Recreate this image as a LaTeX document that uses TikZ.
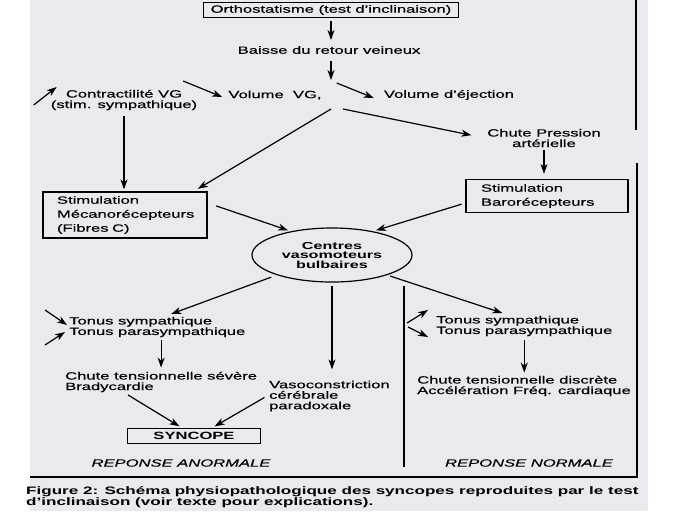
\documentclass[tikz,border=0pt]{standalone}
\usepackage{fontspec}
\setmainfont{Liberation Sans}[FakeStretch=1.58,
  UprightFeatures={FakeBold=0.4},ItalicFeatures={FakeBold=0.4}]
\usetikzlibrary{arrows.meta,positioning,shapes.geometric}
\definecolor{paper}{RGB}{233,233,238}
\tikzset{>={Stealth[length=10pt,width=7pt,inset=3pt]}}
\tikzset{
  lbl/.style={inner sep=2pt,font=\fontsize{10.5}{10.5}\selectfont},
  box/.style={draw,line width=1.2pt,inner sep=2pt,font=\fontsize{10.5}{14}\selectfont},
  ell/.style={draw,ellipse,line width=1.2pt,minimum width=160,minimum height=54,
    inner sep=0pt,align=center,font=\bfseries\fontsize{10.2}{9.5}\selectfont},
  arr/.style={->,line width=1.2pt},
  frame/.style={line width=1.4pt}
}

\begin{document}
\begin{tikzpicture}[x=1pt,y=-1pt]
  \useasboundingbox (0,0) rectangle (689,517);
  \fill[paper] (30,0) rectangle (648,511);
  % haut du schema
  \node[box,minimum width=255,minimum height=15,inner sep=0pt] (o) at (331,10) {Orthostatisme (test d'inclinaison)};
  \node[lbl] (b) at (329,50) {Baisse du retour veineux};
  \coordinate (k) at (331,80);
  \node[lbl,align=center] (c) at (124,100) {Contractilité VG\\(stim. sympathique)};
  \node[lbl] (v) at (275,95) {Volume\ \ VG,};
  \node[lbl] (e) at (449,95) {Volume d'éjection};
  \coordinate (d) at (337,109);
  \node[lbl,align=center] (p) at (544,138) {Chute Pression\\artérielle};
  \node[box,align=left,text width=136,inner xsep=14,minimum height=46] (m) at (125,215)
    {Stimulation\\Mécanorécepteurs\\(Fibres C)};
  \node[box,align=left,text width=132,inner xsep=15,minimum height=33] (r) at (547,196)
    {Stimulation\\Barorécepteurs};
  \node[ell] (z) at (332,255) {Centres\\vasomoteurs\\bulbaires};
  % bas du schema
  \node[lbl,align=left,anchor=west] (ts) at (67,327) {Tonus sympathique\\Tonus parasympathique};
  \node[lbl,align=left,anchor=west] (ct) at (63,382) {Chute tensionnelle sévère\\Bradycardie};
  \node[lbl,align=left,anchor=west] (vc) at (267,396) {Vasoconstriction\\cérébrale\\paradoxale};
  \node[box,minimum width=133,minimum height=15,inner sep=0pt,font=\bfseries\fontsize{10.5}{10.5}\selectfont] (s) at (194,436) {SYNCOPE};
  \node[lbl,align=left,anchor=west] (tr) at (434,326) {Tonus sympathique\\Tonus parasympathique};
  \node[lbl,align=left,anchor=west] (cr) at (415,386) {Chute tensionnelle discrète\\Accélération Fréq. cardiaque};
  \node[lbl,font=\itshape\fontsize{10.5}{10.5}\selectfont] (an) at (181,463) {REPONSE ANORMALE};
  \node[lbl,font=\itshape\fontsize{10.5}{10.5}\selectfont] (no) at (529,463) {REPONSE NORMALE};
  \node[lbl,align=left,anchor=west,inner sep=0pt,font=\bfseries\fontsize{10.8}{10}\selectfont] (f) at (26,497)
    {Figure 2: Schéma physiopathologique des syncopes reproduites par le test\\d'inclinaison (voir texte pour explications).};
  % fleches
  \path[arr] (o.south) edge[shorten <=3pt,shorten >=4pt] (o.south |- b.north)
    (b.south -| k) edge[shorten <=5pt] (k)
    ([xshift=-6]d) edge[shorten >=5pt] ([xshift=-14]m.north east)
    ([xshift=6]d) edge[shorten >=14pt] (p.west)
    (c.south) edge[shorten <=4pt,shorten >=2pt] (c.south |- m.north)
    (p.south) edge[shorten <=1pt,shorten >=5pt] (p.south |- r.north)
    ([yshift=12]m.east) edge[shorten <=9pt,shorten >=3pt] (z.150)
    ([yshift=-7]r.west) edge[shorten <=4pt,shorten >=3pt] (z.30)
    (z.200) edge[shorten <=6pt,shorten >=2pt] ([xshift=12]ts.north)
    (z.340) edge[shorten <=3pt,shorten >=2pt] ([xshift=-20]tr.north)
    (z.south) edge[shorten <=3pt,shorten >=9pt] (z.south |- vc.north)
    (ct.north |- ts.south) edge[shorten <=1pt,shorten >=2pt] (ct.north)
    (tr.south) edge[shorten <=2pt,shorten >=1pt] (tr.south |- cr.north)
    ([xshift=-34]ct.south) edge[shorten <=1pt,shorten >=3pt] ([xshift=-12]s.north)
    (vc.west) edge[shorten <=3pt,shorten >=3pt] ([xshift=18]s.north);
  % petites fleches (hausse / baisse)
  \path[arr] ([shift={(-15,5)}]c.west) edge ([shift={(8,-13)}]c.west)
    ([shift={(-43,-14)}]v.west) edge ([shift={(-4,2)}]v.west)
    ([shift={(-45,-12)}]e.west) edge ([shift={(-8,3)}]e.west)
    ([shift={(-22,-17)}]ts.west) edge ([shift={(0,-2)}]ts.west)
    ([shift={(-22,18)}]ts.west) edge ([shift={(-2,5)}]ts.west)
    ([shift={(-27,-3)}]tr.west) edge ([shift={(-6,-16)}]tr.west)
    ([shift={(-26,1)}]tr.west) edge ([shift={(-6,11)}]tr.west);
  % cadre et separation
  \draw[line width=1.2pt] (404,286) -- (404,467);
  \draw[frame] (636,0) -- (636,130) (637,163) -- (637,477) -- (30,477);
\end{tikzpicture}
\end{document}
